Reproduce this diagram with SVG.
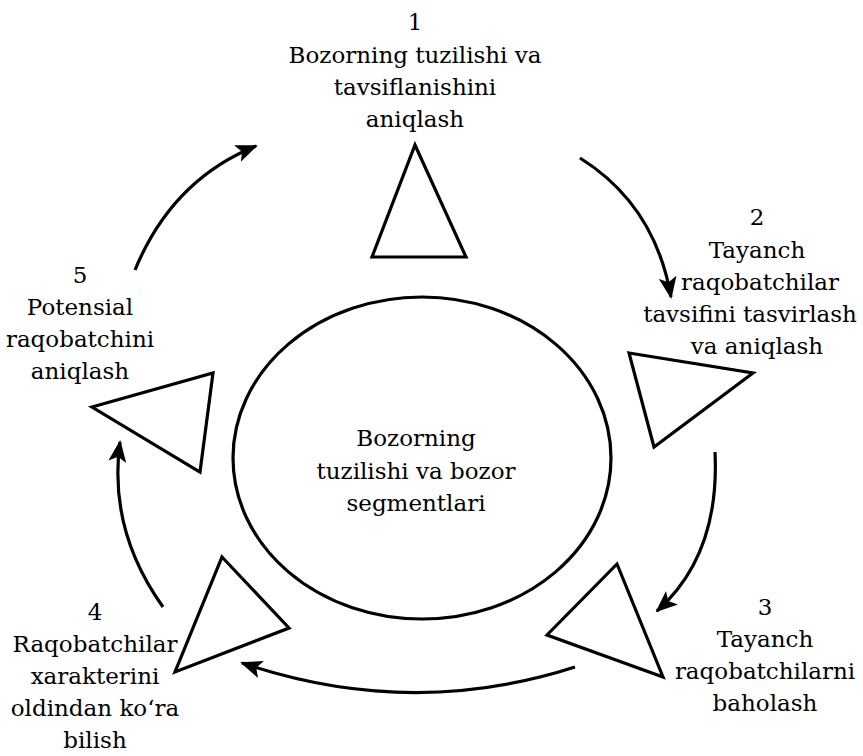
<svg xmlns="http://www.w3.org/2000/svg" width="863" height="756" viewBox="0 0 863 756">
<defs>
<style>
.t{font-family:"DejaVu Serif","Liberation Serif",serif;font-size:23px;fill:#000;text-anchor:middle}
.shape{fill:none;stroke:#000;stroke-width:3.2;stroke-linejoin:miter}
.arc{fill:none;stroke:#000;stroke-width:3.2}
</style>
<marker id="ah" markerUnits="userSpaceOnUse" markerWidth="22" markerHeight="18" refX="20" refY="9" orient="auto" viewBox="0 0 22 18">
<path d="M0,0 L22,9 L0,18 L5,9 z" fill="#000"/>
</marker>
</defs>
<rect width="863" height="756" fill="#fff"/>
<g id="center">
<ellipse class="shape" cx="422" cy="458" rx="189" ry="161"/>
<text class="t" x="416" y="446">Bozorning</text>
<text class="t" x="416" y="479">tuzilishi va bozor</text>
<text class="t" x="416" y="511">segmentlari</text>
</g>
<g id="node1">
<polygon class="shape" points="415,145 466,257 372,257"/>
<text class="t" x="415" y="30">1</text>
<text class="t" x="415" y="63">Bozorning tuzilishi va</text>
<text class="t" x="415" y="95">tavsiflanishini</text>
<text class="t" x="415" y="127">aniqlash</text>
</g>
<g id="node2">
<polygon class="shape" points="629,353 753,373 654,447"/>
<text class="t" x="757" y="225">2</text>
<text class="t" x="757" y="258">Tayanch</text>
<text class="t" x="760" y="290">raqobatchilar</text>
<text class="t" x="750" y="322">tavsifini tasvirlash</text>
<text class="t" x="757" y="354">va aniqlash</text>
</g>
<g id="node3">
<polygon class="shape" points="617,564 663,677 547,635"/>
<text class="t" x="765" y="615">3</text>
<text class="t" x="765" y="647">Tayanch</text>
<text class="t" x="765" y="679">raqobatchilarni</text>
<text class="t" x="765" y="711">baholash</text>
</g>
<g id="node4">
<polygon class="shape" points="222,557 289,628 175,672"/>
<text class="t" x="95" y="620">4</text>
<text class="t" x="95" y="652">Raqobatchilar</text>
<text class="t" x="95" y="684">xarakterini</text>
<text class="t" x="95" y="716">oldindan ko‘ra</text>
<text class="t" x="95" y="748">bilish</text>
</g>
<g id="node5">
<polygon class="shape" points="213,373 200,472 92,407"/>
<text class="t" x="80" y="283">5</text>
<text class="t" x="80" y="315">Potensial</text>
<text class="t" x="80" y="347">raqobatchini</text>
<text class="t" x="80" y="379">aniqlash</text>
</g>
<g id="connectors">
<path class="arc" d="M580,158 Q655,205 671,297" marker-end="url(#ah)"/>
<path class="arc" d="M715,452 Q720,555 657,611" marker-end="url(#ah)"/>
<path class="arc" d="M575,667 Q410,720 242,663" marker-end="url(#ah)"/>
<path class="arc" d="M163,607 Q108,530 120,442" marker-end="url(#ah)"/>
<path class="arc" d="M135,270 Q172,180 256,146" marker-end="url(#ah)"/>
</g>
</svg>
